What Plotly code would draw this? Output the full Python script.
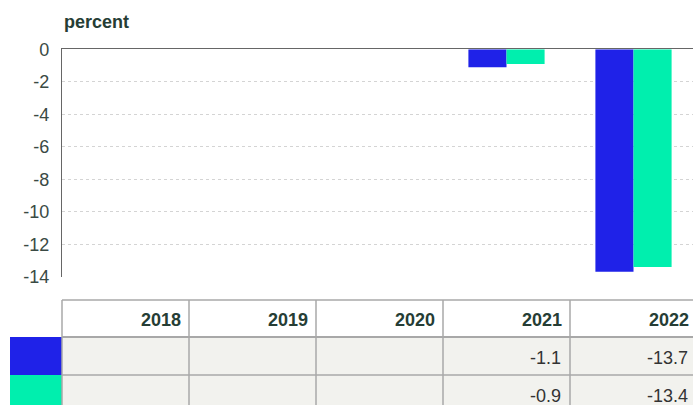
import plotly.graph_objects as go

years = ["2018", "2019", "2020", "2021", "2022"]
series_a = [None, None, None, -1.1, -13.7]
series_b = [None, None, None, -0.9, -13.4]
series_colors = ["#1f22e8", "#00efae"]
y_ticks = [0, -2, -4, -6, -8, -10, -12, -14]

W, H = 693, 405
TXT = "#263d35"
FONT = "Liberation Sans, Arial, sans-serif"

def px(x):
    return x / W

def py(y):
    return 1 - y / H

fig = go.Figure()
for vals, col, name in [(series_a, series_colors[0], "Series A"), (series_b, series_colors[1], "Series B")]:
    fig.add_trace(go.Bar(x=years, y=vals, marker=dict(color=col, line=dict(width=0)),
                         name=name, showlegend=False, hoverinfo="x+y"))

plot_l, plot_t, plot_b = 62, 49.3, 276.7
cat_w = 127
n_vis = (W - plot_l) / cat_w

fig.update_layout(
    width=W, height=H,
    margin=dict(l=0, r=0, t=0, b=0),
    paper_bgcolor="white", plot_bgcolor="white",
    barmode="group", bargap=0.4, bargroupgap=0,
    font=dict(family=FONT, color=TXT, size=18),
    xaxis=dict(domain=[px(plot_l), 1], range=[-0.5, -0.5 + n_vis], side="top",
               showline=True, linecolor="#666666", linewidth=1.3,
               showticklabels=False, ticks="", showgrid=False, zeroline=False,
               automargin=False),
    yaxis=dict(domain=[py(plot_b), py(plot_t)], range=[-14, 0],
               tickvals=y_ticks, ticktext=[str(v) for v in y_ticks],
               showline=True, linecolor="#666666", linewidth=1.3,
               showgrid=True, gridcolor="#d4d4d4", griddash="dot", gridwidth=1,
               zeroline=False, ticks="", ticklabelstandoff=8,
               tickfont=dict(size=18, color="#3a4a44"), automargin=False),
)

fig.add_annotation(x=px(plot_l), y=py(22), xref="paper", yref="paper",
                   text="<b>percent</b>", showarrow=False, xanchor="left", yanchor="middle",
                   font=dict(size=18, color=TXT))

# table below the chart
edges = [plot_l + i * cat_w for i in range(len(years) + 1)]
sw_l = 10
hdr_t, hdr_b = 300, 337
row_h = 38
rows = [series_a, series_b]
line_c = "#a8a8a8"
cell_fill = "#f2f2ee"

shapes = []
shapes.append(dict(type="rect", xref="paper", yref="paper", x0=px(edges[0]), x1=px(edges[-1]),
                   y0=py(hdr_b), y1=py(hdr_t), fillcolor="white", line=dict(width=0), layer="below"))
for r, vals in enumerate(rows):
    t = hdr_b + r * row_h
    b = t + row_h
    shapes.append(dict(type="rect", xref="paper", yref="paper", x0=px(edges[0]), x1=px(edges[-1]),
                       y0=py(b), y1=py(t), fillcolor=cell_fill, line=dict(width=0), layer="below"))
    shapes.append(dict(type="rect", xref="paper", yref="paper", x0=px(sw_l), x1=px(edges[0]),
                       y0=py(b), y1=py(t), fillcolor=series_colors[r], line=dict(width=0), layer="below"))
    for i, v in enumerate(vals):
        if v is not None:
            fig.add_annotation(x=px(edges[i + 1] - 7), y=py((t + b) / 2 + 2), xref="paper", yref="paper",
                               text=f"{v:.1f}", showarrow=False, xanchor="right", yanchor="middle",
                               font=dict(size=18, color="#333333"))
tbl_b = hdr_b + len(rows) * row_h
shapes.append(dict(type="line", xref="paper", yref="paper", x0=px(edges[0]), x1=px(edges[-1]),
                   y0=py(hdr_t), y1=py(hdr_t), line=dict(color=line_c, width=1.5)))
shapes.append(dict(type="line", xref="paper", yref="paper", x0=px(edges[0]), x1=px(edges[-1]),
                   y0=py(hdr_b), y1=py(hdr_b), line=dict(color=line_c, width=2)))
for r in range(1, len(rows)):
    yy = hdr_b + r * row_h
    shapes.append(dict(type="line", xref="paper", yref="paper", x0=px(edges[0]), x1=px(edges[-1]),
                       y0=py(yy), y1=py(yy), line=dict(color=line_c, width=1.5)))
for e in edges:
    shapes.append(dict(type="line", xref="paper", yref="paper", x0=px(e), x1=px(e),
                       y0=py(hdr_t), y1=py(tbl_b), line=dict(color=line_c, width=1.5)))
for i, yr in enumerate(years):
    fig.add_annotation(x=px(edges[i + 1] - 6), y=py((hdr_t + hdr_b) / 2 + 1), xref="paper", yref="paper",
                       text=f"<b>{yr}</b>", showarrow=False, xanchor="right", yanchor="middle",
                       font=dict(size=18, color=TXT))

fig.update_layout(shapes=shapes)
fig.write_html(
    "out.html",
    config={"displayModeBar": False},
    post_script="document.body.style.margin='0';document.body.style.overflow='hidden';",
)
